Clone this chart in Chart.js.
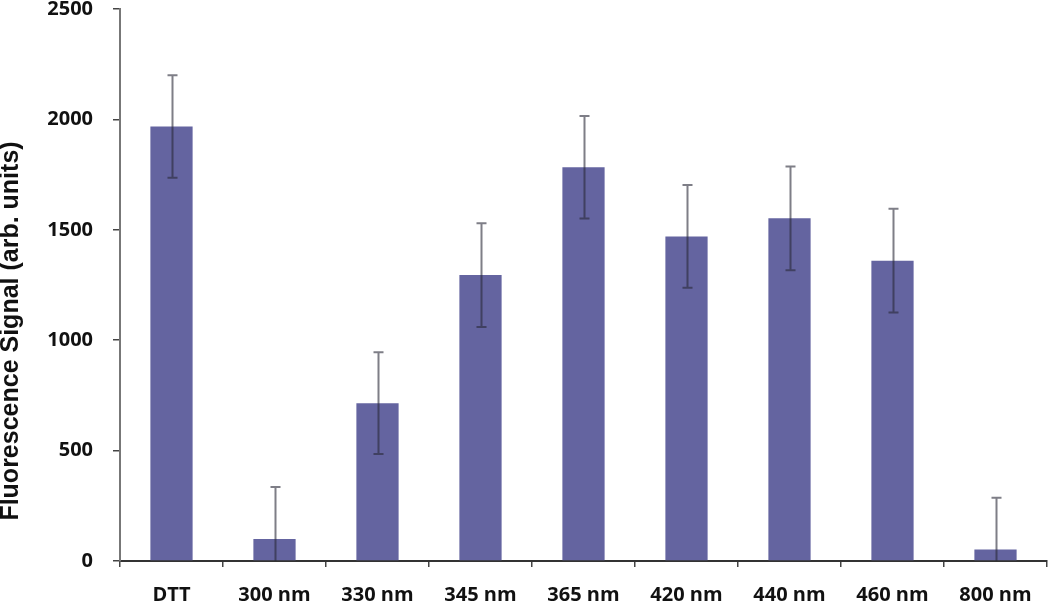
<!DOCTYPE html>
<html>
<head>
<meta charset="utf-8">
<script src="https://cdn.jsdelivr.net/npm/chart.js@4/dist/chart.umd.min.js"></script>
<style>
  html, body { margin: 0; padding: 0; background: #fff; }
  #wrap { width: 1050px; height: 603px; }
</style>
</head>
<body>
<div id="wrap"><canvas id="chart" width="1050" height="603"></canvas></div>
<script>
// data
const categories = ['DTT', '300 nm', '330 nm', '345 nm', '365 nm', '420 nm', '440 nm', '460 nm', '800 nm'];
const signal = [1968, 100, 715, 1295, 1783, 1470, 1552, 1360, 52];
const errors = [232, 235, 230, 235, 232, 233, 235, 235, 235];
const yTicks = [0, 500, 1000, 1500, 2000, 2500];
const yTitle = 'Fluorescence Signal (arb. units)';

const barColor = 'rgb(100,100,160)';
const textColor = '#111';

// vertical error bars, positioned through the chart's own scales
const errorBars = {
    id: 'errorBars',
    afterDatasetsDraw(chart) {
        const { ctx, scales: { y } } = chart;
        const meta = chart.getDatasetMeta(0);
        ctx.save();
        ctx.strokeStyle = 'rgba(40,40,55,0.6)';
        ctx.lineWidth = 2;
        meta.data.forEach((bar, i) => {
            const x = Math.round(bar.x) + 0.5;
            const top = y.getPixelForValue(signal[i] + errors[i]);
            const bot = y.getPixelForValue(Math.max(0, signal[i] - errors[i]));
            ctx.beginPath();
            ctx.moveTo(x, top);
            ctx.lineTo(x, bot);
            ctx.moveTo(x - 5, top);
            ctx.lineTo(x + 5, top);
            if (signal[i] - errors[i] > 0) {
                ctx.moveTo(x - 5, bot);
                ctx.lineTo(x + 5, bot);
            }
            ctx.stroke();
        });
        ctx.restore();
    }
};

// y-axis title, placed a bit below the plot centre as in the original
const axisTitle = {
    id: 'axisTitle',
    afterDraw(chart) {
        const { ctx } = chart;
        ctx.save();
        ctx.translate(11, 331);
        ctx.rotate(-Math.PI / 2);
        ctx.font = 'bold 25px "Liberation Sans", Arial, sans-serif';
        ctx.fillStyle = textColor;
        ctx.textAlign = 'center';
        ctx.textBaseline = 'middle';
        ctx.fillText(yTitle, 0, 0);
        ctx.restore();
    }
};

new Chart(document.getElementById('chart'), {
    type: 'bar',
    data: {
        labels: categories,
        datasets: [{
            data: signal,
            backgroundColor: barColor,
            borderWidth: 0,
            categoryPercentage: 1,
            barPercentage: 0.41,
        }]
    },
    options: {
        responsive: false,
        animation: false,
        devicePixelRatio: 1,
        layout: { padding: { top: 9, right: 3, left: 0, bottom: 0 } },
        plugins: {
            legend: { display: false },
            tooltip: { enabled: false },
        },
        scales: {
            x: {
                afterFit(scale) { scale.height = 42; scale.paddingLeft = 0; scale.paddingRight = 0; },
                grid: { drawOnChartArea: false, drawTicks: true, tickLength: 6, color: '#444', lineWidth: 1.5 },
                border: { color: '#333', width: 2 },
                ticks: {
                    color: textColor,
                    padding: 16,
                    font: { family: '"Open Sans"', size: 20, weight: 'bold' },
                    maxRotation: 0,
                    autoSkip: false,
                },
            },
            y: {
                min: 0,
                max: 2500,
                afterFit(scale) { scale.width = 120; scale.paddingTop = 0; scale.paddingBottom = 0; },
                afterBuildTicks(scale) { scale.ticks = yTicks.map(v => ({ value: v })); },
                grid: { drawOnChartArea: false, drawTicks: true, tickLength: 7, color: '#444', lineWidth: 1.5 },
                border: { color: '#777', width: 2 },
                ticks: {
                    color: textColor,
                    padding: 20,
                    font: { family: '"Open Sans"', size: 20, weight: 'bold' },
                    callback: v => String(v),
                },
            }
        }
    },
    plugins: [errorBars, axisTitle]
});
</script>
</body>
</html>
